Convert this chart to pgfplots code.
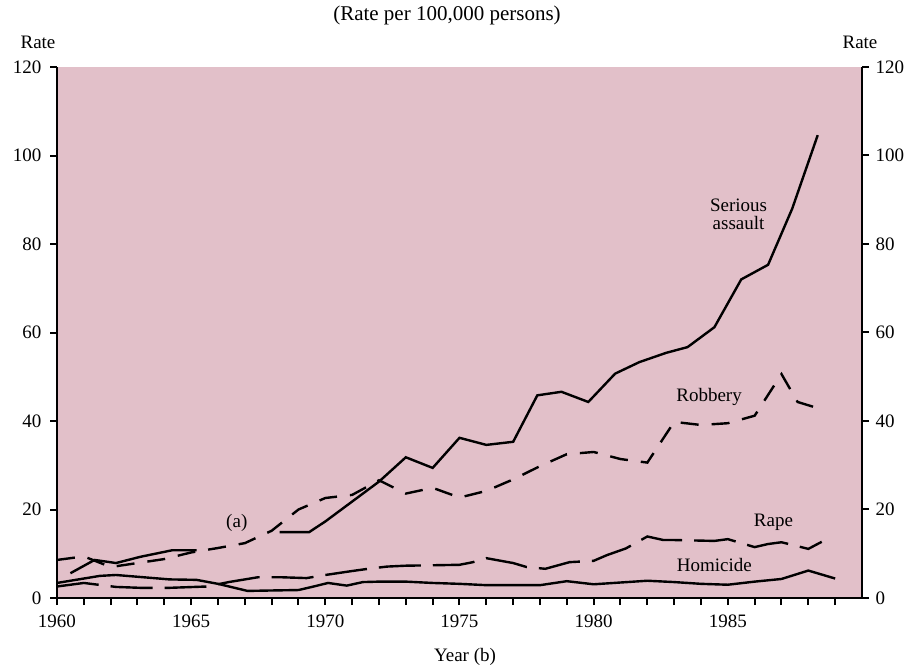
\documentclass[border=0pt]{standalone}
\usepackage{fontspec}
\setmainfont{Liberation Serif}
\usepackage{pgfplots}
\pgfplotsset{compat=1.18}
\definecolor{bgpink}{RGB}{226,192,201}
\begin{document}
\fontsize{9.5pt}{11pt}\selectfont
\begin{tikzpicture}[font=\fontsize{9.5pt}{11pt}\selectfont]
\begin{axis}[
  scale only axis,
  width=402.5pt, height=265.5pt,
  xmin=1960, xmax=1990, ymin=0, ymax=120,
  axis background/.style={fill=bgpink, draw=none},
  axis x line*=bottom, axis y line*=left,
  axis line style={line width=1.1pt},
  xtick={1960,1965,1970,1975,1980,1985},
  xticklabels={1960,1965,1970,1975,1980,1985},
  minor xtick={1961,1962,1963,1964,1966,1967,1968,1969,1971,1972,1973,1974,1976,1977,1978,1979,1981,1982,1983,1984,1986,1987,1988,1989},
  ytick={0,20,40,60,80,100,120},
  yticklabels={0,20,40,60,80,100,120},
  tick align=outside,
  major tick length=3.5pt, minor tick length=3.5pt,
  every tick/.style={black, line width=1pt},
  xticklabel style={yshift=-1.5pt},
  yticklabel style={xshift=-1pt},
  clip=false,
]
\coordinate (SW) at (rel axis cs:0,0);
% Serious assault (solid, with gap)
\addplot[black, line width=1.2pt] coordinates {
(1960.5,5.6) (1961.4,8.6) (1962.2,7.9) (1963.1,9.3) (1964.3,10.8) (1965.2,10.8)};
\addplot[black, line width=1.2pt] coordinates {
(1968.3,14.9) (1969.4,14.9) (1970,17.3) (1971,21.8) (1972,26.3) (1973,31.8) (1974,29.4) (1975,36.2) (1976,34.6) (1977,35.3) (1977.9,45.8) (1978.8,46.6) (1979.8,44.3) (1980.8,50.7) (1981.7,53.3) (1982.7,55.4) (1983.5,56.7) (1984.5,61.2) (1985.5,72) (1986.5,75.3) (1987.4,88) (1988.35,104.6)};
% Robbery (dashed)
\addplot[black, line width=1.2pt, dash pattern=on 9pt off 6.5pt] coordinates {
(1960,8.6) (1961,9.4) (1962,7.0) (1963,7.9) (1964,8.8) (1965,10.3) (1966,11.3) (1967,12.4) (1968,15.2) (1969,20) (1970,22.6) (1971,23.3) (1972,26.6) (1973,23.6) (1974,24.9) (1975,22.7) (1976,24.2) (1977,26.8) (1978,29.8) (1979,32.5) (1980,33) (1981,31.4) (1982,30.6) (1983,39.8) (1984,39.1) (1985,39.5) (1986,41.2) (1987,50.6) (1987.6,44.3) (1988.3,43)};
% Rape (long dashed)
\addplot[black, line width=1.2pt, dash pattern=on 21pt off 6pt] coordinates {
(1960,2.6) (1961,3.4) (1962.2,2.5) (1963.1,2.3) (1964.2,2.3) (1965.6,2.6) (1966.4,3.6) (1967.5,4.7) (1968.3,4.7) (1969.3,4.5) (1970,5.2) (1971,6.1) (1971.6,6.6) (1972.3,7.1) (1973,7.3) (1974,7.4) (1975,7.5) (1975.5,8.1) (1976,9.0) (1977,7.9) (1977.5,7.0) (1978.2,6.6) (1979.1,8.1) (1980,8.4) (1980.5,9.7) (1981.2,11.2) (1982,13.9) (1982.6,13.1) (1983,13.1) (1984.5,12.9) (1985,13.3) (1986,11.5) (1986.5,12.2) (1987,12.6) (1988,11.1) (1988.5,12.7)};
% Homicide (solid)
\addplot[black, line width=1.2pt] coordinates {
(1960,3.4) (1961,4.4) (1961.6,5.0) (1962.2,5.2) (1963,4.8) (1964.2,4.2) (1965.2,4.1) (1966,3.2) (1967.1,1.6) (1968,1.7) (1969,1.8) (1969.5,2.5) (1970.1,3.4) (1970.8,2.8) (1971.4,3.6) (1972,3.7) (1973,3.7) (1974,3.4) (1975,3.2) (1976,2.9) (1977,2.9) (1978,2.9) (1979,3.8) (1980,3.1) (1981,3.5) (1982,3.9) (1983,3.6) (1984,3.2) (1985,3.0) (1986,3.7) (1987,4.3) (1988,6.2) (1989,4.4)};
\node[align=center, font=\fontsize{9.5pt}{8.9pt}\selectfont] at (axis cs:1985.4,86.8) {Serious\\assault};
\node at (axis cs:1984.3,45.4) {Robbery};
\node at (axis cs:1986.7,17) {Rape};
\node at (axis cs:1984.5,7.5) {Homicide};
\node at (axis cs:1966.7,17) {(a)};
\end{axis}
\begin{axis}[
  scale only axis,
  width=402.5pt, height=265.5pt,
  xmin=1960, xmax=1990, ymin=0, ymax=120,
  axis y line*=right, axis x line=none,
  axis line style={line width=1.1pt},
  ytick={0,20,40,60,80,100,120},
  yticklabels={0,20,40,60,80,100,120},
  tick align=outside,
  major tick length=3.5pt,
  every tick/.style={black, line width=1pt},
  yticklabel style={xshift=0pt},
]
\end{axis}
\node[font=\fontsize{10.5pt}{12pt}\selectfont] at ([shift={(195pt,291.5pt)}]SW) {(Rate per 100,000 persons)};
\node at ([shift={(-9.5pt,278pt)}]SW) {Rate};
\node at ([shift={(401.5pt,278pt)}]SW) {Rate};
\node at ([shift={(204pt,-29.5pt)}]SW) {Year (b)};
\pgfresetboundingbox
\path[use as bounding box] ([shift={(-28.5pt,-36pt)}]SW) rectangle ([shift={(427.5pt,299pt)}]SW);
\end{tikzpicture}
\end{document}
